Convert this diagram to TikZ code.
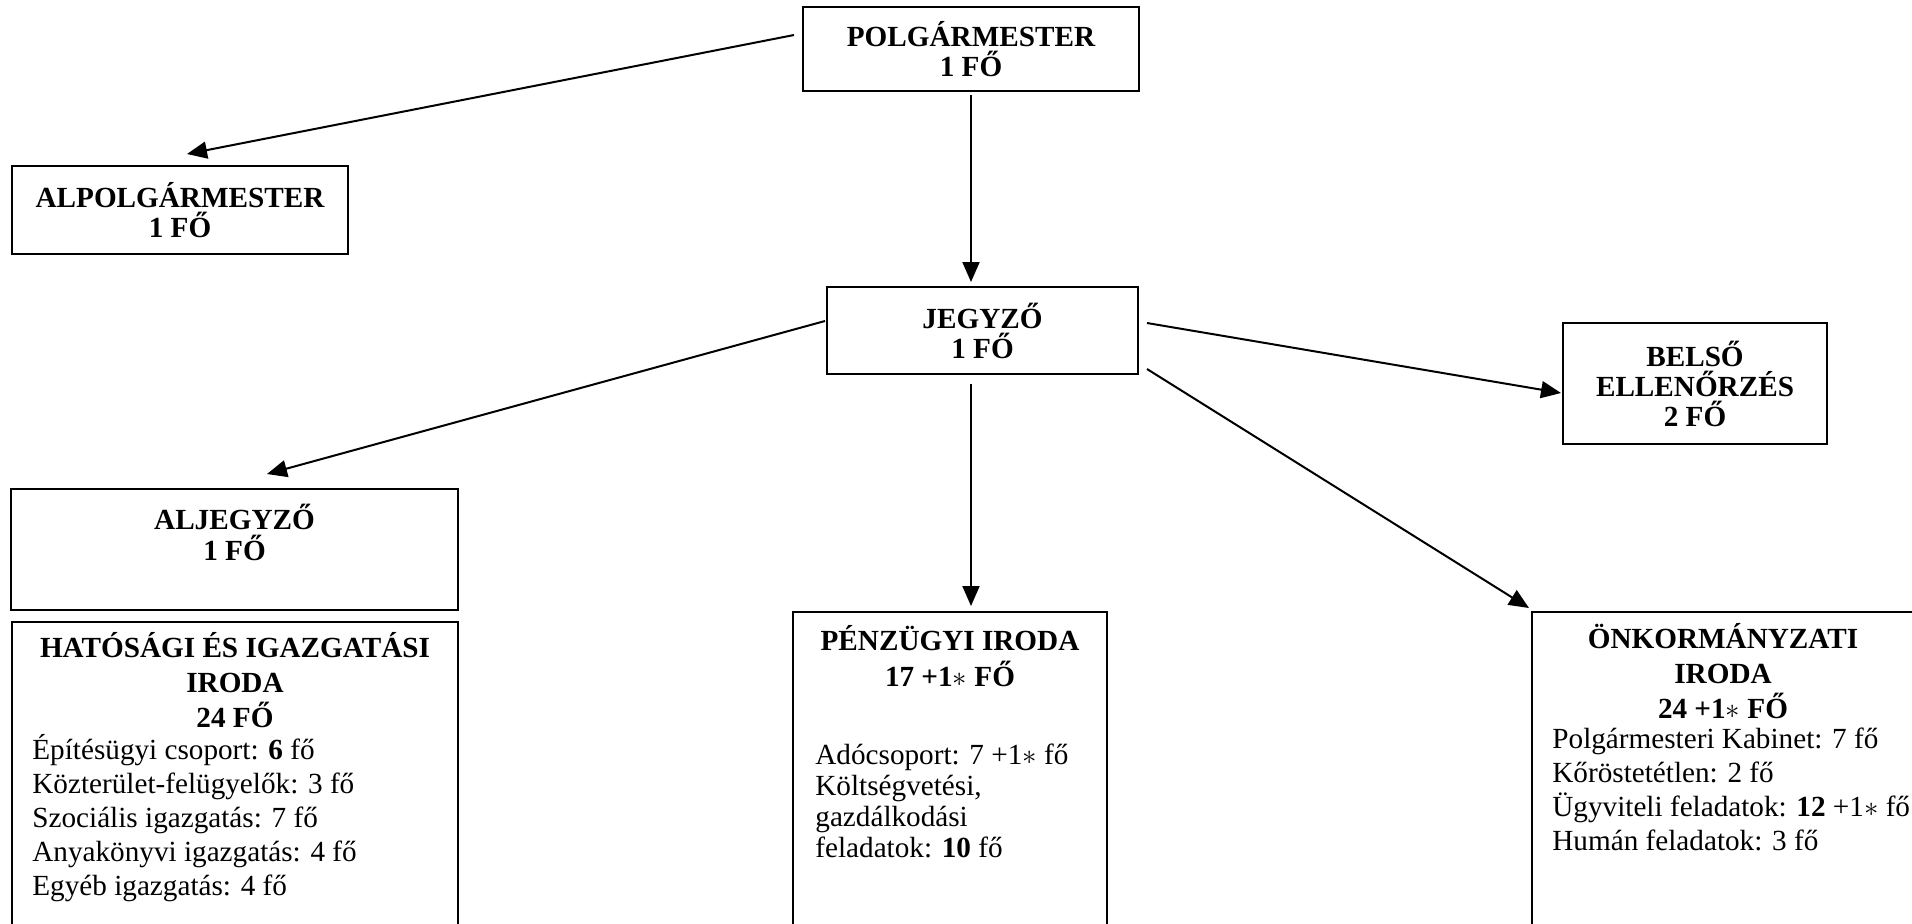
\documentclass[tikz,border=0pt]{standalone}
\usepackage{fontspec}
\setmainfont{Liberation Serif}
\usetikzlibrary{arrows.meta,calc}
\tikzset{
  doboz/.style={draw,line width=1pt,inner sep=0pt,align=center,
    font=\bfseries\fontsize{14.6}{15}\selectfont},
  keret/.style={draw,line width=1pt,inner sep=0pt},
  cim/.style={inner sep=0pt,align=center,font=\bfseries\fontsize{14.6}{17.5}\selectfont},
  lista/.style={inner sep=0pt,align=left,font=\fontsize{14.6}{17}\selectfont},
  nyil/.style={-{Triangle[length=10pt,width=8.5pt]},line width=1pt}
}
\newcommand{\csill}{$\ast$}

\begin{document}
\begin{tikzpicture}[x=0.5pt,y=-0.5pt]
\path[use as bounding box,fill=white] (0,0) rectangle (1912,923);
\clip (0,0) rectangle (1912,923);
% vezetes
\node (polg) [doboz,minimum width=168pt,minimum height=42pt] at (971,49) {POLGÁRMESTER\\1 FŐ};
\node (alpolg) [doboz,minimum width=168pt,minimum height=44pt] at (180,210) {ALPOLGÁRMESTER\\1 FŐ};
\node (jegyzo) [doboz,minimum width=155.5pt,minimum height=43.5pt] at (982.5,330.5) {JEGYZŐ\\1 FŐ};
\node (belso) [doboz,minimum width=132pt,minimum height=60.5pt] at (1695,383.5) {BELSŐ\\ELLENŐRZÉS\\2 FŐ};
%
% irodak (base = utolso sor alapvonala)
\node (aljegyzo) [keret,minimum width=223.5pt,minimum height=60.5pt] at (234.5,549.5) {};
\node (aljegyzo-cim) [cim,anchor=base,font=\bfseries\fontsize{14.6}{15.5}\selectfont] at (234.5,560) {ALJEGYZŐ\\1 FŐ};
\node (hatosagi) [keret,minimum width=223pt,minimum height=169pt] at (235,791) {};
\node (hatosagi-cim) [cim,anchor=base] at (235,727) {HATÓSÁGI ÉS IGAZGATÁSI\\IRODA\\24 FŐ};
\node (hatosagi-lista) [lista,anchor=base west] at (32,895) {Építésügyi csoport: \textbf{6} fő\\
  Közterület-felügyelők: 3 fő\\Szociális igazgatás: 7 fő\\
  Anyakönyvi igazgatás: 4 fő\\Egyéb igazgatás: 4 fő};
\node (penzugyi) [keret,minimum width=157pt,minimum height=174pt] at (950,786) {};
\node (penzugyi-cim) [cim,anchor=base,font=\bfseries\fontsize{14.6}{18}\selectfont] at (950,686) {PÉNZÜGYI IRODA\\17 +1\csill{} FŐ};
\node (penzugyi-lista) [lista,anchor=base west,font=\fontsize{14.6}{15.5}\selectfont] at (815,857)
  {Adócsoport: 7 +1\csill{} fő\\Költségvetési,\\gazdálkodási\\feladatok: \textbf{10} fő};
\node (onkorm) [keret,minimum width=191pt,minimum height=174pt] at (1723,786) {};
\node (onkorm-cim) [cim,anchor=base] at (1723,718) {ÖNKORMÁNYZATI\\IRODA\\24 +1\csill{} FŐ};
\node (onkorm-lista) [lista,anchor=base west] at (1552,850) {Polgármesteri Kabinet: 7 fő\\
  Kőröstetétlen: 2 fő\\Ügyviteli feladatok: \textbf{12} +1\csill{} fő\\Humán feladatok: 3 fő};
%
\draw[nyil] ($(polg.west)+(-8,-14)$) -- ($(alpolg.north)+(7,-11)$);
\draw[nyil,shorten <=1.5pt,shorten >=2pt] (polg.south) -- (polg.south |- jegyzo.north);
\draw[nyil] ($(jegyzo.west)+(-1,-9.5)$) -- ($(aljegyzo.north)+(32.5,-14)$);
\draw[nyil] ($(jegyzo.east)+(8,-7.5)$) -- ($(belso.west)+(-1,9.5)$);
\draw[nyil] ($(jegyzo.south)+(-11.5,9)$) -- ($(penzugyi.north)+(21,-5)$);
\draw[nyil] ($(jegyzo.east)+(8,38.5)$) -- ($(onkorm.north west)+(-2,-3)$);
\end{tikzpicture}
\end{document}
